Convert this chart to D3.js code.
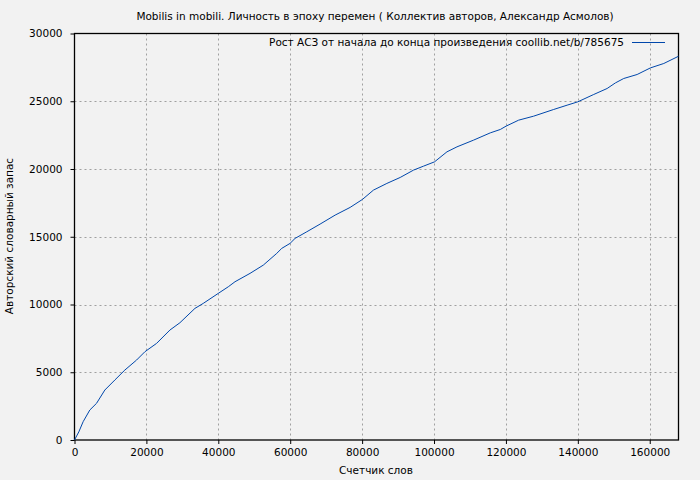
<!DOCTYPE html>
<html>
<head>
<meta charset="utf-8">
<script src="https://cdn.jsdelivr.net/npm/d3@7"></script>
<style>
  body { margin: 0; background: #f2f2f2; }
  svg { display: block; font-family: "DejaVu Sans", sans-serif; }
</style>
</head>
<body>
<svg id="chart" width="700" height="480"></svg>
<script>
// word counter (x) and vocabulary size (y)
let words = [0, 600, 1200, 2400, 4260, 6130, 8440, 11220, 14010, 17270, 19580, 22830, 26540, 29320,
  33500, 35820, 39990, 42780, 44640, 48820, 52520, 56250, 57640, 59960, 61350, 64600, 68310,
  72490, 76660, 80090, 83150, 86880, 90590, 94290, 97080, 100140, 103590, 106380, 111000,
  115650, 118440, 120020, 123530, 127710, 133280, 137010, 139960, 144420, 148150, 150460,
  152770, 156500, 160200, 163910, 168000];
let vocab = [0, 300, 600, 1350, 2213, 2707, 3688, 4426, 5163, 5901, 6515, 7130, 8114, 8654,
  9713, 10083, 10821, 11310, 11680, 12296, 12908, 13772, 14140, 14510, 14878, 15366, 15933,
  16597, 17165, 17755, 18441, 18935, 19376, 19916, 20211, 20528, 21266, 21635, 22130,
  22667, 22917, 23161, 23604, 23899, 24393, 24710, 24954, 25500, 25942, 26355,
  26680, 26975, 27462, 27787, 28320];
let xTicks = [0, 20000, 40000, 60000, 80000, 100000, 120000, 140000, 160000];
let yTicks = [0, 5000, 10000, 15000, 20000, 25000, 30000];

let title = "Mobilis in mobili. Личность в эпоху перемен ( Коллектив авторов, Александр Асмолов)";
let legendText = "Рост АСЗ от начала до конца произведения coollib.net/b/785675";

// plot box (window.top is taken, so own names)
let pLeft = 74.5, pRight = 678.5, pTop = 33.5, pBottom = 440;
let fontSize = "10.5px";

let svg = d3.select("#chart");

let x = d3.scaleLinear().domain([0, 168000]).range([pLeft, pRight]);
let y = d3.scaleLinear().domain([0, 30000]).range([pBottom, pTop]);

// grid
svg.append("g")
    .selectAll("line")
    .data(xTicks.filter(d => d > 0))
    .enter()
    .append("line")
        .attr("x1", d => Math.round(x(d)) + 0.5)
        .attr("x2", d => Math.round(x(d)) + 0.5)
        .attr("y1", pTop)
        .attr("y2", pBottom)
        .attr("stroke", "#a0a0a0")
        .attr("stroke-dasharray", "2,3")

svg.append("g")
    .selectAll("line")
    .data(yTicks.filter(d => d > 0 && d < 30000))
    .enter()
    .append("line")
        .attr("x1", pLeft)
        .attr("x2", pRight)
        .attr("y1", d => Math.round(y(d)) + 0.5)
        .attr("y2", d => Math.round(y(d)) + 0.5)
        .attr("stroke", "#a0a0a0")
        .attr("stroke-dasharray", "2,3")

// axes
let xAxis = d3.axisBottom(x).tickValues(xTicks).tickSize(4).tickPadding(5).tickFormat(d3.format("d"));
let yAxis = d3.axisLeft(y).tickValues(yTicks).tickSize(4).tickPadding(8).tickFormat(d3.format("d"));

let gx = svg.append("g").attr("transform", "translate(0," + pBottom + ")").call(xAxis);
let gy = svg.append("g").attr("transform", "translate(" + pLeft + ",0)").call(yAxis);
[gx, gy].forEach(g => {
    g.select(".domain").remove();
    g.selectAll("line").attr("stroke", "#000");
    g.selectAll("text").attr("fill", "#000").style("font-size", fontSize).style("font-family", "DejaVu Sans");
});

// frame
svg.append("rect")
    .attr("x", pLeft).attr("y", pTop)
    .attr("width", pRight - pLeft).attr("height", pBottom - pTop)
    .attr("fill", "none").attr("stroke", "#000").attr("stroke-width", 1.3)

// data line
let line = d3.line().x((d, i) => x(words[i])).y(d => y(d));
svg.append("path")
    .datum(vocab)
    .attr("d", line)
    .attr("fill", "none")
    .attr("stroke", "#0047ab")
    .attr("stroke-width", 1)

// texts
svg.append("text").attr("x", 375).attr("y", 20).attr("text-anchor", "middle")
    .style("font-size", fontSize).text(title)
svg.append("text").attr("x", 376).attr("y", 474).attr("text-anchor", "middle")
    .style("font-size", fontSize).text("Счетчик слов")
svg.append("text").attr("transform", "translate(13,236) rotate(-90)").attr("text-anchor", "middle")
    .style("font-size", fontSize).text("Авторский словарный запас")

// legend
svg.append("text").attr("x", 624).attr("y", 46).attr("text-anchor", "end")
    .style("font-size", fontSize).text(legendText)
svg.append("line").attr("x1", 632).attr("x2", 665).attr("y1", 42.5).attr("y2", 42.5)
    .attr("stroke", "#0047ab").attr("stroke-width", 1)
</script>
</body>
</html>
